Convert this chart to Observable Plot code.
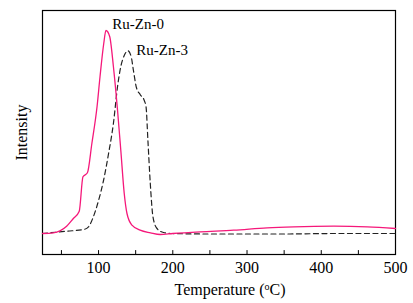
<!DOCTYPE html>
<html>
<head>
<meta charset="utf-8">
<script src="https://cdn.jsdelivr.net/npm/d3@7"></script>
<script src="https://cdn.jsdelivr.net/npm/@observablehq/plot@0.6"></script>
<style>
  html, body { margin: 0; padding: 0; background: #fff; }
  svg { display: block; }
</style>
</head>
<body>
<div id="chart"></div>
<script>
// Ru-Zn-0 (pink solid)
const tempZn0 = [24.5, 39, 48, 57, 66, 74, 79, 85, 91, 98, 102, 107, 110, 115, 120, 125.6, 130, 134.6, 138.3, 145, 156, 170, 183, 200, 237, 282, 327, 363, 417, 462, 500];
const intZn0  = [0, 0.7, 2.7, 7.3, 15, 22.3, 56.7, 60.7, 90, 127, 157, 190, 203, 197, 167, 123, 83, 40, 20, 8.3, 3.3, 0.7, -1, 0, 1.7, 3.3, 5.7, 6.7, 7.3, 6.7, 5];
// Ru-Zn-3 (black dashed)
const tempZn3 = [24.5, 57, 80, 86.5, 93, 100, 106.7, 113.5, 120, 125.6, 130, 134.6, 139.6, 144, 147, 151, 156, 161.6, 164, 166.5, 169.7, 173.3, 178.7, 187.6, 200, 250, 350, 420, 500];
const intZn3  = [0, 2.3, 4, 6.7, 16.7, 33, 53, 80, 110, 147, 167, 178, 182.7, 176.7, 163, 146, 139, 133, 126.7, 93, 50, 16.7, 5, 1, 0, -0.5, -0.5, 0, 0];

const seriesNames = ["Ru-Zn-0", "Ru-Zn-3"];
const labelTemp = [118.5, 150.8];
const labelInt = [209, 183];

const minorTicks = d3.range(50, 451, 50);
const majorTicks = [100, 200, 300, 400, 500];
const yDomain = [-21, 223];

const zn0 = tempZn0.map((t, i) => ({t, v: intZn0[i]}));
const zn3 = tempZn3.map((t, i) => ({t, v: intZn3[i]}));
const labels = seriesNames.map((name, i) => ({name, t: labelTemp[i], v: labelInt[i]}));

const font = "'Liberation Serif', 'Times New Roman', serif";

const plot = Plot.plot({
  width: 413,
  height: 303,
  marginLeft: 42,
  marginRight: 18,
  marginTop: 10,
  marginBottom: 49,
  style: {fontFamily: font, fontSize: "16px", color: "#000", background: "#fff"},
  x: {domain: [24.5, 500]},
  y: {domain: yDomain},
  marks: [
    Plot.frame({stroke: "#000", strokeWidth: 1.2}),
    Plot.vector(minorTicks, {x: d => d, y: yDomain[0], length: 4, rotate: 0, anchor: "start", shape: {draw(ctx, l) { ctx.moveTo(0, 0); ctx.lineTo(0, -l); }}, stroke: "#000", strokeWidth: 1}),
    Plot.axisX({ticks: majorTicks, tickSize: 0, tickPadding: 7, fontSize: 16,
      label: "Temperature (oC)", labelAnchor: "center", labelArrow: "none", labelOffset: 40}),
    Plot.axisY({ticks: [], label: "Intensity", labelAnchor: "center", labelArrow: "none", labelOffset: 27, fontSize: 16}),
    Plot.line(zn3, {x: "t", y: "v", stroke: "#222", strokeWidth: 1.2, strokeDasharray: "5,3.5", curve: "monotone-x"}),
    Plot.line(zn0, {x: "t", y: "v", stroke: "#f5187a", strokeWidth: 1.3, curve: "monotone-x"}),
    Plot.text(labels, {x: "t", y: "v", text: "name", textAnchor: "start", fontSize: 15, fill: "#000"})
  ]
});

// superscript "o" in the x label
d3.select(plot).selectAll("text").each(function() {
  const el = d3.select(this);
  if (el.text() === "Temperature (oC)") {
    el.text(null);
    el.append("tspan").attr("dx", 11).text("Temperature (");
    el.append("tspan").attr("font-size", "10px").attr("dy", "-0.45em").text("o");
    el.append("tspan").attr("dy", "0.3em").text("C)");
  }
});

document.getElementById("chart").appendChild(plot);
</script>
</body>
</html>
